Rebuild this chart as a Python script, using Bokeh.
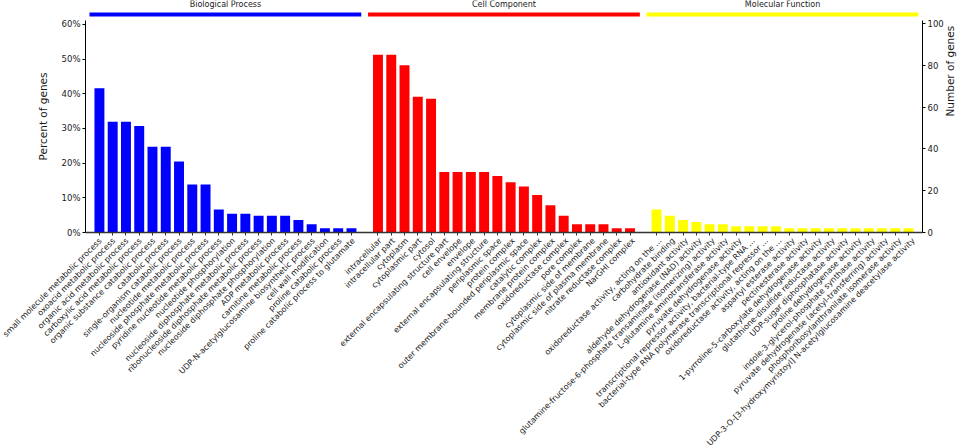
import math
from bokeh.plotting import figure
from bokeh.layouts import column
from bokeh.models import (ColumnDataSource, Range1d, LinearAxis, FixedTicker,
                          PrintfTickFormatter)
from bokeh.embed import file_html
from bokeh.resources import INLINE
from bokeh.core.properties import value

# ---------------- data ----------------
bp_terms = [
    "small molecule metabolic process",
    "oxoacid metabolic process",
    "organic acid metabolic process",
    "carboxylic acid metabolic process",
    "organic substance catabolic process",
    "catabolic process",
    "single-organism catabolic process",
    "nucleotide metabolic process",
    "nucleoside phosphate metabolic process",
    "pyridine nucleotide metabolic process",
    "nucleotide phosphorylation",
    "nucleoside diphosphate metabolic process",
    "ribonucleoside diphosphate metabolic process",
    "nucleoside diphosphate phosphorylation",
    "ADP metabolic process",
    "carnitine metabolic process",
    "UDP-N-acetylglucosamine biosynthetic process",
    "cell wall modification",
    "proline catabolic process",
    "proline catabolic process to glutamate",
]
bp_counts = [69, 53, 53, 51, 41, 41, 34, 23, 23, 11, 9, 9, 8, 8, 8, 6, 4, 2, 2, 2]

cc_terms = [
    "intracellular",
    "intracellular part",
    "cytoplasm",
    "cytoplasmic part",
    "cytosol",
    "external encapsulating structure part",
    "cell envelope",
    "envelope",
    "external encapsulating structure",
    "periplasmic space",
    "protein complex",
    "outer membrane-bounded periplasmic space",
    "catalytic complex",
    "membrane protein complex",
    "oxidoreductase complex",
    "pore complex",
    "cytoplasmic side of membrane",
    "cytoplasmic side of plasma membrane",
    "nitrate reductase complex",
    "NarGHI complex",
]
cc_counts = [85, 85, 80, 65, 64, 29, 29, 29, 29, 27, 24, 22, 18, 13, 8, 4, 4, 4, 2, 2]

mf_terms = [
    "oxidoreductase activity, acting on the ...",
    "carbohydrate binding",
    "antioxidant activity",
    "aldehyde dehydrogenase (NAD) activity",
    "glutamine-fructose-6-phosphate transaminase (isomerizing) activity",
    "L-glutamine aminotransferase activity",
    "pyruvate dehydrogenase activity",
    "transcriptional repressor activity, bacterial-type RNA ...",
    "bacterial-type RNA polymerase transcriptional repressor ...",
    "oxidoreductase activity, acting on the ...",
    "aspartyl esterase activity",
    "pectinesterase activity",
    "1-pyrroline-5-carboxylate dehydrogenase activity",
    "glutathione-disulfide reductase activity",
    "UDP-sugar diphosphatase activity",
    "proline dehydrogenase activity",
    "indole-3-glycerol-phosphate synthase activity",
    "pyruvate dehydrogenase (acetyl-transferring) activity",
    "phosphoribosylanthranilate isomerase activity",
    "UDP-3-O-[3-hydroxymyristoyl] N-acetylglucosamine deacetylase activity",
]
mf_counts = [11, 8, 6, 5, 4, 4, 3, 3, 3, 3, 2, 2, 2, 2, 2, 2, 2, 2, 2, 2]

group_names = ["Biological Process", "Cell Component", "Molecular Function"]
group_colors = ["#0000ff", "#ff0000", "#ffff00"]
total_genes = 166
pct_ticks = [0, 10, 20, 30, 40, 50, 60]
count_ticks = [0, 20, 40, 60, 80, 100]

# ---------------- layout constants ----------------
FONT = "DejaVu Sans"
TXT = "#1a1a1a"
W, H = 964, 447
FRAME_BOTTOM = 232            # px from the top where the value 0 sits
TOP_H = 244                   # top figure (bars + axes)
OVERLAP = 8                   # bottom figure slides under the top one
BOT_H = H - TOP_H + OVERLAP
LEFT, RIGHT = 85, 38          # frame borders in px
Y_TOP = 111.0                 # genes at the top of the frame
AXIS_TOP = 101.4              # genes where the spines stop
X0, X1 = -1.05, 62.05
SCALE = (W - LEFT - RIGHT) / (X1 - X0)

groups = [(bp_terms, bp_counts), (cc_terms, cc_counts), (mf_terms, mf_counts)]

xs, tops, colors, labels = [], [], [], []
for g, (terms, counts) in enumerate(groups):
    for i, (t, c) in enumerate(zip(terms, counts)):
        xs.append(g * 21 + i)
        tops.append(c)
        colors.append(group_colors[g])
        labels.append(t)

# ================= top figure: bars and axes =================
p = figure(width=W, height=TOP_H, output_backend="svg", toolbar_location=None,
           x_range=Range1d(X0, X1), y_range=Range1d(0, Y_TOP),
           y_axis_location="right",
           min_border_left=LEFT, min_border_right=RIGHT, min_border_top=0,
           min_border_bottom=TOP_H - FRAME_BOTTOM)
p.outline_line_color = None
p.grid.visible = False
p.background_fill_color = "white"
p.border_fill_color = "white"
p.extra_y_ranges = {"pct": Range1d(0, Y_TOP * 100.0 / total_genes)}

src = ColumnDataSource(dict(x=xs, top=tops, color=colors, label=labels))
p.vbar(x="x", top="top", width=0.75, bottom=0, source=src,
       fill_color="color", line_color=None)

# right axis (number of genes) = primary axis
ra = p.yaxis[0]
ra.ticker = FixedTicker(ticks=count_ticks)
ra.bounds = (0, AXIS_TOP)
ra.axis_line_color = "black"
ra.major_tick_line_color = "black"
ra.major_tick_out = 3
ra.major_tick_in = 0
ra.minor_tick_line_color = None
ra.major_label_standoff = 2
ra.major_label_text_font = FONT
ra.major_label_text_font_size = "8.5px"
ra.major_label_text_color = TXT
ra.axis_label = "Number of genes"
ra.axis_label_text_font = FONT
ra.axis_label_text_font_size = "10.5px"
ra.axis_label_text_font_style = "normal"
ra.axis_label_text_color = TXT
ra.axis_label_standoff = 3
if "axis_label_orientation" in ra.properties():
    ra.axis_label_orientation = math.pi / 2

# left axis (percent of genes)
la = LinearAxis(y_range_name="pct", ticker=FixedTicker(ticks=pct_ticks),
                formatter=PrintfTickFormatter(format="%d%%"),
                bounds=(0, AXIS_TOP * 100.0 / total_genes))
la.axis_label = "Percent of genes"
la.axis_label_text_font = FONT
la.axis_label_text_font_size = "10.5px"
la.axis_label_text_font_style = "normal"
la.axis_label_text_color = TXT
la.axis_label_standoff = 10
la.axis_line_color = "black"
la.major_tick_line_color = "black"
la.major_tick_out = 3
la.major_tick_in = 0
la.minor_tick_line_color = None
la.major_label_standoff = 2
la.major_label_text_font = FONT
la.major_label_text_font_size = "8.5px"
la.major_label_text_color = TXT
p.add_layout(la, "left")

# bottom axis: spine with a small tick under every bar (labels drawn below)
xa = p.xaxis[0]
xa.ticker = FixedTicker(ticks=[], minor_ticks=xs)
xa.axis_line_color = "#333333"
xa.axis_line_width = 1.5
xa.major_tick_line_color = None
xa.minor_tick_line_color = "#333333"
xa.minor_tick_out = 3
xa.minor_tick_in = 0
xa.major_label_standoff = 0

# group bars and titles on top
for g, name in enumerate(group_names):
    first = g * 21
    last = g * 21 + len(groups[g][0]) - 1
    p.segment(x0=[first - 0.75], x1=[last + 0.74], y0=[104.3], y1=[104.3],
              line_color=group_colors[g], line_width=4)
    p.text(x=[(first + last) / 2.0], y=[109.1], text=[name],
           text_align="center", text_baseline="middle",
           text_font=value(FONT), text_font_size="8px", text_color=TXT)

# ================= bottom figure: rotated category labels =================
can_unalign = "frame_align" in p.properties()
if can_unalign:
    q_xr = Range1d(X0 - LEFT / SCALE, X1 + RIGHT / SCALE)
else:
    q_xr = Range1d(X0, X1)

q = figure(width=W, height=BOT_H, output_backend="svg", toolbar_location=None,
           x_range=q_xr, y_range=Range1d(0, BOT_H),
           x_axis_type=None, y_axis_type=None,
           min_border=0, margin=(-OVERLAP, 0, 0, 0))
q.outline_line_color = None
q.grid.visible = False
q.background_fill_alpha = 0
q.border_fill_alpha = 0
if can_unalign:
    p.frame_align = False
    q.frame_align = False
q.text(x="x", y=BOT_H - (FRAME_BOTTOM + 7 - (TOP_H - OVERLAP)), text="label",
       source=src, angle=math.pi / 4, text_align="right",
       text_baseline="middle", x_offset=1, text_font=value(FONT),
       text_font_size="8px", text_color=TXT)

layout = column(p, q, spacing=0)
open("out.html", "w").write(file_html(layout, INLINE))
